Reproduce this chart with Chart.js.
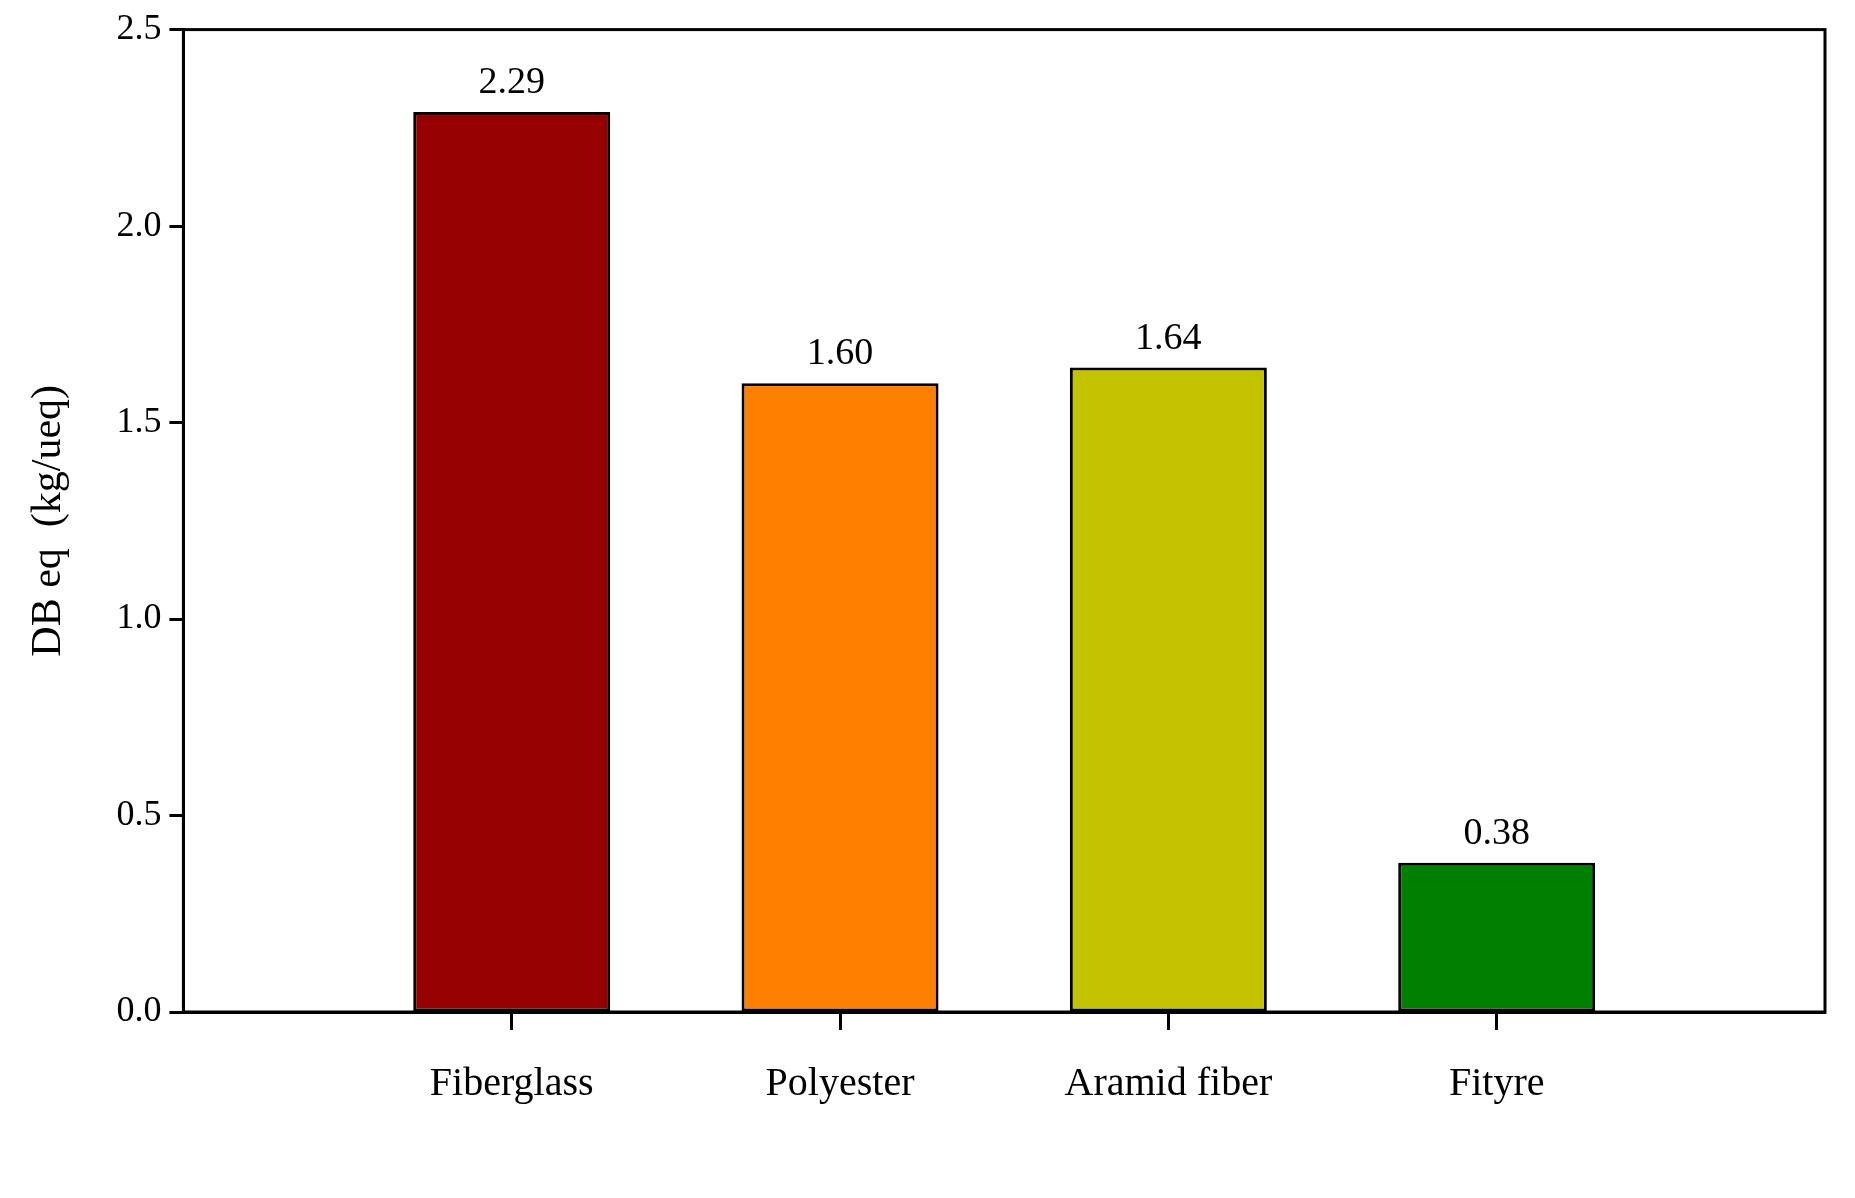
<!DOCTYPE html>
<html>
<head>
<meta charset="utf-8">
<script src="https://cdn.jsdelivr.net/npm/chart.js@4"></script>
<style>
  html, body { margin: 0; padding: 0; background: #fff; }
  #wrap { width: 1855px; height: 1198px; }
</style>
</head>
<body>
<div id="wrap"><canvas id="chart"></canvas></div>
<script>
// blank first/last labels leave the empty margins either side of the bars
const categories = ['', 'Fiberglass', 'Polyester', 'Aramid fiber', 'Fityre', ''];
const values = [null, 2.29, 1.60, 1.64, 0.38, null];
const valueLabels = ['', '2.29', '1.60', '1.64', '0.38', ''];
const barColors = ['#000', '#960000', '#ff8000', '#c3c300', '#008000', '#000'];
const yTicks = [0, 0.5, 1.0, 1.5, 2.0, 2.5];

const font = 'Liberation Serif';

const frame = {
  id: 'frame',
  afterDraw(chart) {
    const { ctx, chartArea: a } = chart;
    ctx.save();
    ctx.strokeStyle = '#000';
    ctx.lineWidth = 3;
    ctx.strokeRect(a.left, a.top, a.right - a.left, a.bottom - a.top);
    ctx.restore();
  },
};

const barLabels = {
  id: 'barLabels',
  afterDatasetsDraw(chart) {
    const { ctx } = chart;
    const meta = chart.getDatasetMeta(0);
    ctx.save();
    ctx.fillStyle = '#000';
    ctx.font = `38px "${font}"`;
    ctx.textAlign = 'center';
    ctx.textBaseline = 'bottom';
    meta.data.forEach((bar, i) => {
      if (values[i] == null) return;
      ctx.fillText(valueLabels[i], bar.x, bar.y - 10);
    });
    ctx.restore();
  },
};

new Chart(document.getElementById('chart'), {
  type: 'bar',
  data: {
    labels: categories,
    datasets: [{
      data: values,
      backgroundColor: barColors,
      borderColor: '#000',
      borderWidth: 3,
      borderSkipped: false,
      barPercentage: 0.6,
      categoryPercentage: 1,
    }],
  },
  options: {
    responsive: true,
    maintainAspectRatio: false,
    animation: false,
    layout: { padding: { top: 28, right: 20, bottom: 60, left: 20 } },
    plugins: { legend: { display: false }, tooltip: { enabled: false } },
    scales: {
      x: {
        offset: false,
        grid: {
          offset: false,
          drawOnChartArea: false,
          tickLength: 18,
          tickWidth: 3,
          tickColor: (c) => (c.index === 0 || c.index === categories.length - 1 ? 'rgba(0,0,0,0)' : '#000'),
        },
        border: { color: '#000', width: 3 },
        ticks: { color: '#000', font: { family: font, size: 40 }, padding: 30, maxRotation: 0, autoSkip: false },
      },
      y: {
        min: 0,
        max: 2.5,
        afterBuildTicks: (axis) => { axis.ticks = yTicks.map((v) => ({ value: v })); },
        grid: { drawOnChartArea: false, tickLength: 14, tickWidth: 3, tickColor: '#000' },
        border: { color: '#000', width: 3 },
        ticks: { color: '#000', font: { family: font, size: 36 }, padding: 8, callback: (v) => v.toFixed(1) },
        title: { display: true, text: 'DB eq  (kg/ueq)', color: '#000', font: { family: font, size: 42 }, padding: { bottom: 34 } },
      },
    },
  },
  plugins: [frame, barLabels],
});
</script>
</body>
</html>
